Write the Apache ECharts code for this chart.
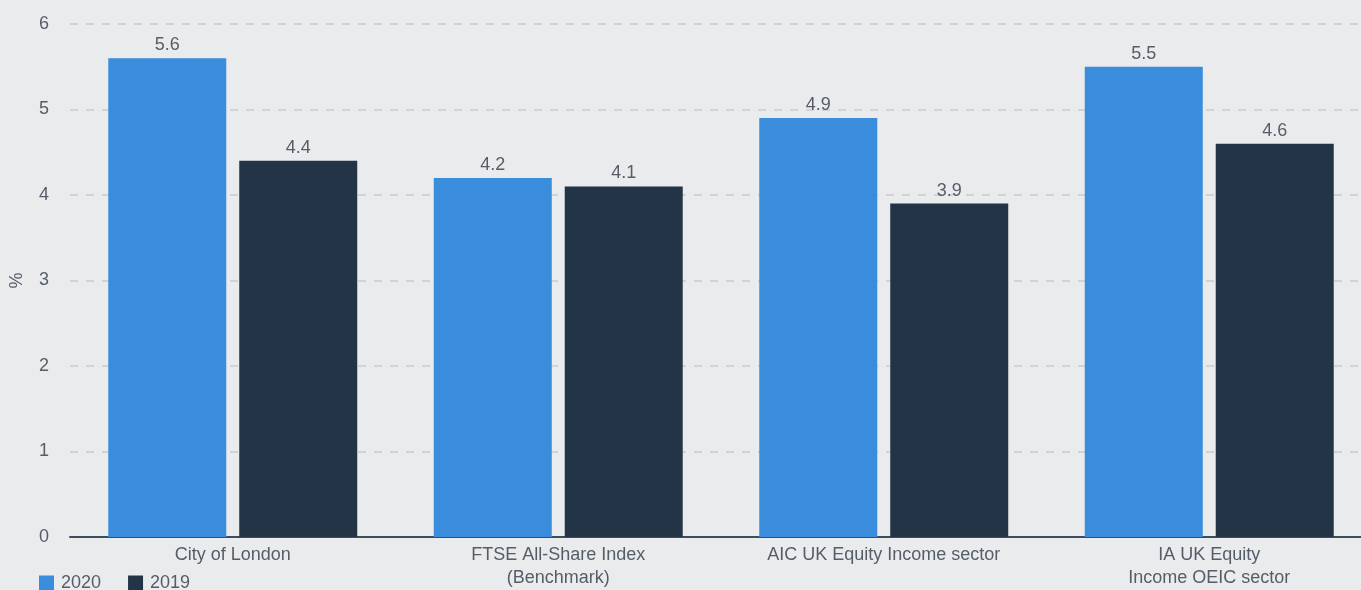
<!DOCTYPE html>
<html><head><meta charset="utf-8">
<script src="https://cdn.jsdelivr.net/npm/echarts@6/dist/echarts.min.js"></script>
<style>html,body{margin:0;padding:0;background:#eaebed;overflow:hidden;width:1361px;height:590px;}#c{width:1372px;height:590px;}</style>
</head><body><div id="c"></div>
<script>
const categories = ["City of London", "FTSE All-Share Index\n(Benchmark)", "AIC UK Equity Income sector", "IA UK Equity\nIncome OEIC sector"];
const series2020 = [5.6, 4.2, 4.9, 5.5];
const series2019 = [4.4, 4.1, 3.9, 4.6];
const seriesNames = ["2020", "2019"];
const yTicks = [0, 1, 2, 3, 4, 5, 6];

const chart = echarts.init(document.getElementById('c'), null, {renderer: 'canvas'});
const font = "'Liberation Sans', Arial, sans-serif";
const textColor = '#555e68';
chart.setOption({
  backgroundColor: '#eaebed',
  animation: false,
  textStyle: {fontFamily: font},
  grid: {left: 70, right: 0, top: 24, bottom: 49, containLabel: false},
  legend: {
    left: 39, top: 574, itemWidth: 15, itemHeight: 15, itemGap: 27, padding: 0,
    icon: 'rect',
    textStyle: {fontSize: 18, color: textColor, fontFamily: font, padding: [0, 0, 0, 2]},
    data: seriesNames
  },
  xAxis: {
    type: 'category', data: categories,
    axisLine: {lineStyle: {color: '#3d4d5e', width: 2}},
    axisTick: {show: false},
    axisLabel: {fontSize: 18, color: textColor, lineHeight: 23, margin: 7, interval: 0}
  },
  yAxis: {
    type: 'value', min: yTicks[0], max: yTicks[yTicks.length - 1], interval: 1,
    name: '%', nameLocation: 'middle', nameGap: 44, nameRotate: 90,
    nameTextStyle: {fontSize: 18, color: textColor},
    axisLine: {show: false}, axisTick: {show: false},
    axisLabel: {fontSize: 18, color: textColor, margin: 21},
    splitLine: {lineStyle: {color: '#d0d2d4', type: [8, 8], width: 2}}
  },
  series: [
    {name: seriesNames[0], type: 'bar', data: series2020, barWidth: 118, barGap: '11%',
     itemStyle: {color: '#3a8ddd'},
     label: {show: true, position: 'top', fontSize: 18, color: textColor, distance: 4}},
    {name: seriesNames[1], type: 'bar', data: series2019, barWidth: 118,
     itemStyle: {color: '#233446'},
     label: {show: true, position: 'top', fontSize: 18, color: textColor, distance: 4}}
  ]
});
</script></body></html>
